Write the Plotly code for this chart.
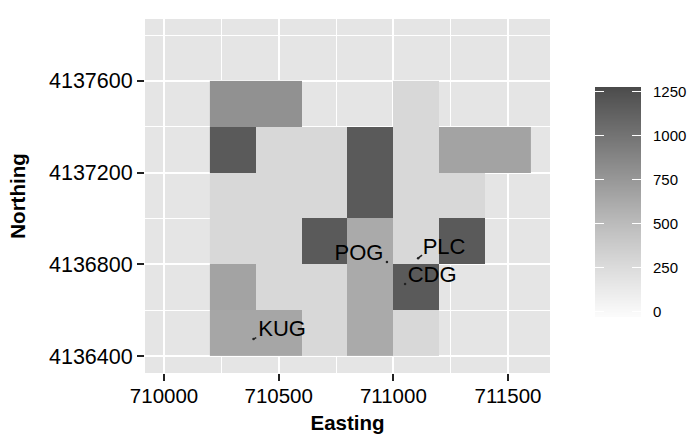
import plotly.graph_objects as go

# ---- data ----
cell_x = [710300, 710500, 710700, 710900, 711100, 711300, 711500]
cell_y = [4136500, 4136700, 4136900, 4137100, 4137300, 4137500]
N = None
row_136500 = [650, 650, 285, 625, 285, N, N]
row_136700 = [675, 285, 285, 625, 1180, N, N]
row_136900 = [285, 285, 1180, 625, 285, 1180, N]
row_137100 = [285, 285, 285, 1180, 285, 285, N]
row_137300 = [1180, 285, 285, 1180, 285, 675, 675]
row_137500 = [800, 800, N, N, 285, N, N]
cell_z = [row_136500, row_136700, row_136900, row_137100, row_137300, row_137500]

site_names = ["KUG", "POG", "PLC", "CDG"]
site_x = [710390, 710972, 711108, 711051]
site_y = [4136474, 4136810, 4136827, 4136714]
label_x = [710515, 710850, 711221, 711169]
label_y = [4136510, 4136842, 4136870, 4136748]
leader_x = [710392, 710402, None, 711108, 711125]
leader_y = [4136475, 4136480, None, 4136827, 4136840]

legend_ticks = [0, 250, 500, 750, 1000, 1250]
legend_levels = [-31, 0, 250, 500, 750, 1000, 1250, 1278]

# ---- styling ----
W, H = 689, 436
FONT = "Liberation Sans"
INK = "#000000"
zmin, zmax = -31, 1278
def stop(v):
    return (v - zmin) / (zmax - zmin)
def fx(px):
    return px / W
def fy(py):
    return (H - py) / H
scale = [
    [0, "#fcfcfc"], [stop(0), "#f9f9f9"], [stop(250), "#dcdcdc"], [stop(500), "#bcbcbc"],
    [stop(750), "#989898"], [stop(1000), "#747474"], [stop(1250), "#505050"], [1, "#4a4a4a"],
]

fig = go.Figure()
fig.add_trace(go.Heatmap(x=cell_x, y=cell_y, z=cell_z, coloraxis="coloraxis", hoverongaps=False))
fig.add_trace(go.Scatter(x=leader_x, y=leader_y, mode="lines", line=dict(color="#222222", width=1.5),
                         showlegend=False))
fig.add_trace(go.Scatter(x=site_x, y=site_y, mode="markers", marker=dict(color="#222222", size=2.5),
                         showlegend=False))
fig.add_trace(go.Scatter(x=label_x, y=label_y, mode="text", text=site_names, textposition="middle center",
                         textfont=dict(family=FONT, size=22, color=INK), showlegend=False))
# legend colour bar
fig.add_trace(go.Heatmap(x=[0, 1], y=legend_levels, z=[[v, v] for v in legend_levels],
                         coloraxis="coloraxis", zsmooth="best", xaxis="x2", yaxis="y2"))

fig.update_layout(
    width=W, height=H,
    margin=dict(l=0, r=0, t=0, b=0, autoexpand=False),
    paper_bgcolor="white", plot_bgcolor="#e5e5e5",
    font=dict(family=FONT, color=INK),
    showlegend=False,
    coloraxis=dict(cmin=zmin, cmax=zmax, colorscale=scale, showscale=False),
    xaxis=dict(
        domain=[fx(145), fx(550)], range=[709917, 711683],
        tick0=710000, dtick=500, tickformat="d", ticks="outside", ticklen=7, tickwidth=2, tickcolor="#222222",
        tickfont=dict(size=20.5), ticklabelstandoff=-3, showgrid=True, gridcolor="white", gridwidth=2,
        zeroline=False,
        minor=dict(dtick=250, tick0=710000, showgrid=True, gridcolor="white", gridwidth=1, ticks=""),
        title=dict(text="<b>Easting</b>", font=dict(size=20.5), standoff=10), automargin=False,
    ),
    yaxis=dict(
        domain=[fy(373), fy(19)], range=[4136326, 4137870],
        tick0=4136400, dtick=400, tickformat="d", ticks="outside", ticklen=7, tickwidth=2, tickcolor="#222222",
        tickfont=dict(size=21.5), showgrid=True, gridcolor="white", gridwidth=2, zeroline=False,
        minor=dict(dtick=200, tick0=4136400, showgrid=True, gridcolor="white", gridwidth=1, ticks=""),
        title=dict(text="<b>Northing</b>", font=dict(size=20.5), standoff=17), automargin=False,
    ),
    xaxis2=dict(domain=[fx(595), fx(641)], range=[0, 1], visible=False, anchor="y2"),
    yaxis2=dict(
        domain=[fy(317), fy(87)], range=[zmin, zmax], anchor="x2", side="right",
        tickvals=legend_ticks, ticks="inside", ticklen=9, tickwidth=1, tickcolor="white", mirror="ticks",
        tickfont=dict(size=15), ticklabelstandoff=11, showgrid=False, zeroline=False, showline=False,
        automargin=False,
    ),
)
fig.write_html("out.html", config={"displayModeBar": False}, post_script="document.body.style.margin='0';")
